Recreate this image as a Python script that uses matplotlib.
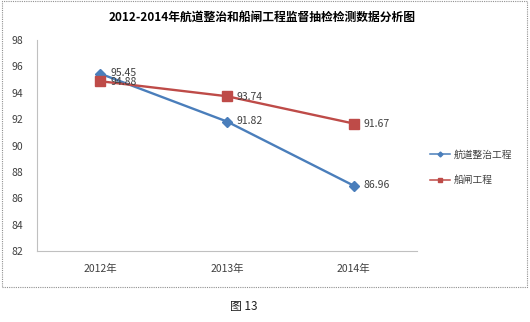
import matplotlib
matplotlib.use("Agg")
from matplotlib import pyplot as plt
from matplotlib.patches import Rectangle

plt.rcParams['font.family'] = ['Noto Sans CJK SC', 'DejaVu Sans']

# data
years = ["2012年", "2013年", "2014年"]
channel = [95.45, 91.82, 86.96]   # 航道整治工程
lock = [94.88, 93.74, 91.67]      # 船闸工程
series_names = ["航道整治工程", "船闸工程"]
y_ticks = [82, 84, 86, 88, 90, 92, 94, 96, 98]

BLUE = "#4a7ebb"
RED = "#be4b48"

fig = plt.figure(figsize=(5.3, 3.22), dpi=100)
ax = fig.add_axes([0.0698, 0.2205, 0.717, 0.655])

x = list(range(len(years)))
ax.plot(x, channel, color=BLUE, lw=1.7, marker="D", ms=5, label=series_names[0])
ax.plot(x, lock, color=RED, lw=1.7, marker="s", ms=6.5, label=series_names[1])

for xi, v in zip(x, channel):
    ax.annotate(f"{v:.2f}", (xi, v), xytext=(7, 0.5), textcoords="offset points",
                va="center", ha="left", fontsize=7.5, color="#404040")
for xi, v in zip(x, lock):
    ax.annotate(f"{v:.2f}", (xi, v), xytext=(7, -0.5), textcoords="offset points",
                va="center", ha="left", fontsize=7.5, color="#404040")

ax.set_xlim(-0.5, 2.5)
ax.set_ylim(82, 98)
ax.set_yticks(y_ticks)
ax.set_xticks(x)
ax.set_xticklabels(years)
ax.tick_params(axis="both", length=0, labelsize=7.5, colors="#404040")
ax.tick_params(axis="x", pad=9)
ax.tick_params(axis="y", pad=10)
for side in ["top", "right"]:
    ax.spines[side].set_visible(False)
for side in ["left", "bottom"]:
    ax.spines[side].set_color("#c0c0c0")
    ax.spines[side].set_linewidth(0.8)

leg = fig.legend(loc="center left", bbox_to_anchor=(0.795, 0.48), frameon=False,
                 fontsize=7, handlelength=2.0, handletextpad=0.4, labelspacing=1.6,
                 markerscale=0.5)
for t in leg.get_texts():
    t.set_color("#404040")
for h in leg.get_lines():
    h.set_linewidth(1.1)

fig.text(0.495, 0.947, "2012-2014年航道整治和船闸工程监督抽检检测数据分析图",
         ha="center", va="center", fontsize=8.5, fontweight="bold")

# dotted frame around the chart
fig.patches.append(Rectangle((0.003, 0.11), 0.992, 0.886, transform=fig.transFigure,
                             fill=False, ls=(0, (1, 1)), lw=0.8, ec="#909090"))

fig.text(0.46, 0.048, "图 13", ha="center", va="center", fontsize=8.5, color="#202020")

fig.savefig("out.png", dpi=100)
